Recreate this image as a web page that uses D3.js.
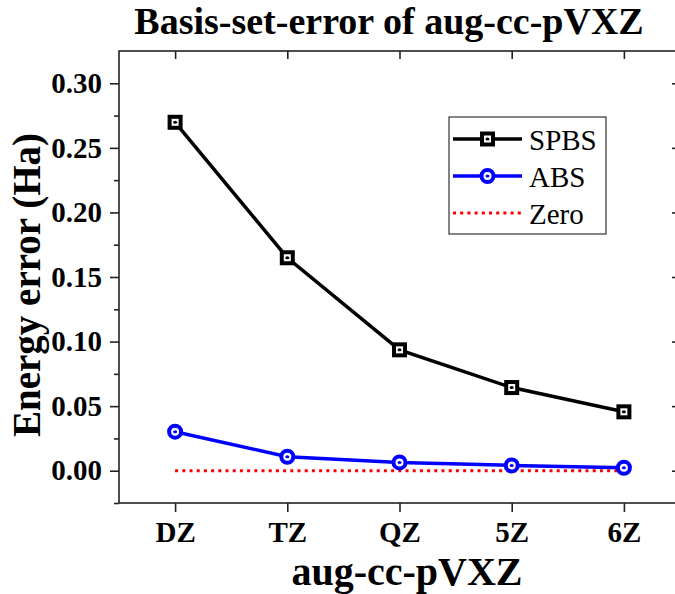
<!DOCTYPE html>
<html>
<head>
<meta charset="utf-8">
<script src="https://cdn.jsdelivr.net/npm/d3@7"></script>
<style>
  body { margin: 0; background: #fff; }
  text { font-family: "Liberation Serif", "Times New Roman", serif; }
</style>
</head>
<body>
<div id="visContainer"></div>
<script>
// data
const categories = ["DZ", "TZ", "QZ", "5Z", "6Z"];
const spbs = [0.2698, 0.1649, 0.0936, 0.0644, 0.0456];
const abs = [0.0302, 0.0108, 0.0064, 0.0041, 0.0023];
const zero = [0, 0, 0, 0, 0];
const yTicks = [0.00, 0.05, 0.10, 0.15, 0.20, 0.25, 0.30];
const yMinorTicks = [-0.025, 0.025, 0.075, 0.125, 0.175, 0.225, 0.275];

const width = 675;
const height = 594;
const margin = {top: 51, right: -5, bottom: 91, left: 119};

const svg = d3.select("#visContainer")
  .append("svg")
  .attr("width", width)
  .attr("height", height);

const xScale = d3.scaleLinear()
  .domain([0.5, categories.length + 0.5])
  .range([margin.left, width - margin.right]);

const yScale = d3.scaleLinear()
  .domain([-0.025, 0.325])
  .range([height - margin.bottom, margin.top]);

const xIdx = categories.map((c, i) => i + 1);

// frame
svg.append("rect")
  .attr("x", margin.left)
  .attr("y", margin.top)
  .attr("width", xScale.range()[1] - margin.left)
  .attr("height", yScale.range()[0] - margin.top)
  .attr("fill", "none")
  .attr("stroke", "#222")
  .attr("stroke-width", 1.6);

// left axis, major + minor
svg.append("g")
  .attr("transform", `translate(${margin.left},0)`)
  .call(d3.axisLeft(yScale).tickValues(yTicks).tickFormat(d3.format(".2f")).tickSize(9).tickPadding(8));
svg.append("g")
  .attr("transform", `translate(${margin.left},0)`)
  .call(d3.axisLeft(yScale).tickValues(yMinorTicks).tickFormat("").tickSize(5));

// right axis ticks (inward)
svg.append("g")
  .attr("transform", `translate(${xScale.range()[1]},0)`)
  .call(d3.axisRight(yScale).tickValues(yTicks).tickFormat("").tickSize(-8));

// bottom axis
svg.append("g")
  .attr("transform", `translate(0,${yScale.range()[0]})`)
  .call(d3.axisBottom(xScale).tickValues(xIdx).tickFormat((d) => categories[d - 1]).tickSize(9).tickPadding(9));

// top ticks (inward)
svg.append("g")
  .attr("transform", `translate(0,${margin.top})`)
  .call(d3.axisTop(xScale).tickValues(xIdx).tickFormat("").tickSize(-8));

svg.selectAll(".domain").remove();
svg.selectAll(".tick line").attr("stroke", "#222").attr("stroke-width", 1.6);
svg.selectAll(".tick text")
  .attr("fill", "#000")
  .style("font-size", "29px")
  .style("font-weight", "bold");

// title and axis labels
svg.append("text")
  .attr("x", 389)
  .attr("y", 34)
  .attr("text-anchor", "middle")
  .style("font-size", "38px")
  .style("font-weight", "bold")
  .text("Basis-set-error of aug-cc-pVXZ");

svg.append("text")
  .attr("x", 407)
  .attr("y", 585)
  .attr("text-anchor", "middle")
  .style("font-size", "40px")
  .style("font-weight", "bold")
  .text("aug-cc-pVXZ");

svg.append("text")
  .attr("transform", `translate(40,285) rotate(-90)`)
  .attr("text-anchor", "middle")
  .style("font-size", "39px")
  .style("font-weight", "bold")
  .text("Energy error (Ha)");

// lines
const line = d3.line()
  .x((d, i) => xScale(i + 1))
  .y((d) => yScale(d));

svg.append("path")
  .datum(zero)
  .attr("d", line)
  .attr("fill", "none")
  .attr("stroke", "#ff0000")
  .attr("stroke-width", 3)
  .attr("stroke-dasharray", "3 4.2");

svg.append("path")
  .datum(abs)
  .attr("d", line)
  .attr("fill", "none")
  .attr("stroke", "#0000ff")
  .attr("stroke-width", 3.5);

svg.append("path")
  .datum(spbs)
  .attr("d", line)
  .attr("fill", "none")
  .attr("stroke", "#000")
  .attr("stroke-width", 3.5);

function squareMarker(g, cx, cy) {
  g.append("rect")
    .attr("x", cx - 5.5).attr("y", cy - 5.5)
    .attr("width", 11).attr("height", 11)
    .attr("fill", "#fff").attr("stroke", "#000").attr("stroke-width", 4);
  g.append("ellipse")
    .attr("cx", cx).attr("cy", cy).attr("rx", 2).attr("ry", 1.5)
    .attr("fill", "#000");
}

function circleMarker(g, cx, cy) {
  g.append("circle")
    .attr("cx", cx).attr("cy", cy).attr("r", 6)
    .attr("fill", "#fff").attr("stroke", "#0000ff").attr("stroke-width", 4);
  g.append("ellipse")
    .attr("cx", cx).attr("cy", cy).attr("rx", 2).attr("ry", 1.5)
    .attr("fill", "#0000ff");
}

const abMarks = svg.append("g");
abs.forEach((d, i) => circleMarker(abMarks, xScale(i + 1), yScale(d)));
const spMarks = svg.append("g");
spbs.forEach((d, i) => squareMarker(spMarks, xScale(i + 1), yScale(d)));

// legend
const legend = svg.append("g");
legend.append("rect")
  .attr("x", 449).attr("y", 117)
  .attr("width", 157).attr("height", 117)
  .attr("fill", "#fff")
  .attr("stroke", "#333")
  .attr("stroke-width", 1.2);

const rows = [
  {name: "SPBS", color: "#000", y: 139},
  {name: "ABS", color: "#0000ff", y: 176},
  {name: "Zero", color: "#ff0000", y: 213}
];

rows.forEach((r) => {
  const l = legend.append("line")
    .attr("x1", 453).attr("x2", 522)
    .attr("y1", r.y).attr("y2", r.y)
    .attr("stroke", r.color)
    .attr("stroke-width", r.name === "Zero" ? 3 : 3.5);
  if (r.name === "Zero") l.attr("stroke-dasharray", "3 4.2");
  if (r.name === "SPBS") squareMarker(legend, 487.5, r.y);
  if (r.name === "ABS") circleMarker(legend, 487.5, r.y);
  legend.append("text")
    .attr("x", 529)
    .attr("y", r.y + 10.5)
    .style("font-size", "29px")
    .text(r.name);
});
</script>
</body>
</html>
